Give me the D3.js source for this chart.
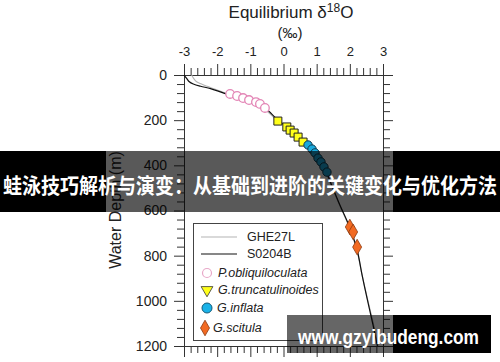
<!DOCTYPE html>
<html><head><meta charset="utf-8">
<script src="https://cdn.jsdelivr.net/npm/d3@7/dist/d3.min.js"></script>
<style>body{margin:0;background:#fff}svg{display:block}</style>
</head><body>
<svg id="c" width="500" height="362"></svg>
<script>
// ---- data ----
const xTicks = [-3, -2, -1, 0, 1, 2, 3];
const yTicks = [0, 200, 400, 600, 800, 1000, 1200];
const depths = [0, 15, 30, 40, 50, 60, 80, 115, 146, 199, 239, 288, 345, 421, 487, 576, 669, 775, 886, 996, 1107, 1200];
const s0204b = [-3.0, -2.92, -2.84, -2.72, -2.50, -2.2, -1.80, -1.01, -0.56, -0.17, 0.20, 0.59, 0.95, 1.27, 1.45, 1.70, 1.98, 2.22, 2.37, 2.53, 2.70, 2.83];
const ghe27l = [-2.77, -2.71, -2.62, -2.47, -2.30, -2.12, -1.76, -1.06, -0.62, -0.21, 0.16, 0.55, 0.92, 1.24, 1.43, 1.69, 1.97, 2.21, 2.37, 2.54, 2.72, 2.85];
const pObliX = [-1.61, -1.40, -1.22, -1.04, -0.83, -0.71, -0.56];
const pObliD = [84, 93, 102, 111, 120, 128, 146];
const gTrunX = [-0.17, 0.10, 0.20, 0.32, 0.44, 0.59];
const gTrunD = [204, 230, 244, 257, 275, 297];
const gInflX = [0.74, 0.86, 0.95, 1.04, 1.13, 1.22, 1.31];
const gInflD = [310, 328, 345, 368, 385, 407, 430];
const gSciX = [2.0, 2.1, 2.22];
const gSciD = [673, 695, 762];
const legendLabels = ["GHE27L", "S0204B", "P.obliquiloculata", "G.truncatulinoides", "G.inflata", "G.scitula"];
const bannerText = "蛙泳技巧解析与演变：从基础到进阶的关键变化与优化方法";
const watermarkText = "www.gzyibudeng.com";

// ---- chart ----
const svg = d3.select("#c");
const FONT = "'Liberation Sans', Arial, Helvetica, sans-serif";
const x = d3.scaleLinear().domain([-3, 3]).range([184, 383]);
const y = d3.scaleLinear().domain([0, 1200]).range([75, 346]);
const minorX = d3.range(-3, 3.001, 0.2).map(v => +v.toFixed(2)).filter(v => Math.abs(v - Math.round(v)) > 1e-6);
const minorY = d3.range(0, 1200.1, 40).filter(v => v % 200 !== 0);
const axColor = "#333";

function styleAxis(g) {
  g.selectAll("path.domain").attr("stroke", axColor).attr("stroke-width", 1);
  g.selectAll(".tick line").attr("stroke", axColor);
  g.selectAll("text").attr("font-family", FONT).attr("fill", "#222");
}
// top
svg.append("g").attr("transform", "translate(0,75)")
  .call(d3.axisTop(x).tickValues(xTicks).tickSize(11).tickSizeOuter(0).tickPadding(8).tickFormat(d => String(d)))
  .call(styleAxis).call(g => g.selectAll("text").attr("font-size", 13));
svg.append("g").attr("transform", "translate(0,75)")
  .call(d3.axisTop(x).tickValues(minorX).tickSize(7).tickSizeOuter(0).tickFormat(""))
  .call(styleAxis);
// bottom
svg.append("g").attr("transform", "translate(0,346)")
  .call(d3.axisBottom(x).tickValues(xTicks).tickSize(11).tickSizeOuter(0).tickFormat(""))
  .call(styleAxis);
svg.append("g").attr("transform", "translate(0,346)")
  .call(d3.axisBottom(x).tickValues(minorX).tickSize(7).tickSizeOuter(0).tickFormat(""))
  .call(styleAxis);
// left
svg.append("g").attr("transform", "translate(184,0)")
  .call(d3.axisLeft(y).tickValues(yTicks).tickSize(10).tickSizeOuter(0).tickPadding(7).tickFormat(d => String(d)))
  .call(styleAxis).call(g => g.selectAll("text").attr("font-size", 14));
svg.append("g").attr("transform", "translate(184,0)")
  .call(d3.axisLeft(y).tickValues(minorY).tickSize(7).tickSizeOuter(0).tickFormat(""))
  .call(styleAxis);
// right
svg.append("g").attr("transform", "translate(383,0)")
  .call(d3.axisRight(y).tickValues(yTicks).tickSize(10).tickSizeOuter(0).tickFormat(""))
  .call(styleAxis);
svg.append("g").attr("transform", "translate(383,0)")
  .call(d3.axisRight(y).tickValues(minorY).tickSize(7).tickSizeOuter(0).tickFormat(""))
  .call(styleAxis);

// titles
const t = svg.append("text").attr("x", 291).attr("y", 18).attr("text-anchor", "middle")
  .attr("font-family", FONT).attr("font-size", 17).attr("fill", "#222");
t.append("tspan").text("Equilibrium δ");
t.append("tspan").attr("font-size", 12).attr("dy", -6).text("18");
t.append("tspan").attr("dy", 6).text("O");
svg.append("text").attr("x", 290).attr("y", 38).attr("text-anchor", "middle")
  .attr("font-family", FONT).attr("font-size", 15).attr("fill", "#222").text("(‰)");
svg.append("text").attr("transform", "translate(121,210) rotate(-90)").attr("text-anchor", "middle")
  .attr("font-family", FONT).attr("font-size", 16).attr("fill", "#222").text("Water Depth (m)");

// lines
const line = d3.line().x(d => x(d[0])).y(d => y(d[1])).curve(d3.curveCatmullRom);
svg.append("path").attr("d", line(ghe27l.map((v, i) => [v, depths[i]])))
  .attr("fill", "none").attr("stroke", "#b4b4b4").attr("stroke-width", 1.1);
svg.append("path").attr("d", line(s0204b.map((v, i) => [v, depths[i]])))
  .attr("fill", "none").attr("stroke", "#111").attr("stroke-width", 1.2);

// markers
const sq = d3.symbol().type(d3.symbolSquare).size(64);
const dia = d3.symbol().type(d3.symbolDiamond).size(70);
const tri = d3.symbol().type(d3.symbolTriangle).size(60);
svg.append("g").selectAll("circle").data(pObliX.map((v, i) => [v, pObliD[i]])).join("circle")
  .attr("cx", d => x(d[0])).attr("cy", d => y(d[1])).attr("r", 4.3)
  .attr("fill", "#fff").attr("stroke", "#e386b6").attr("stroke-width", 1.3);
svg.append("g").selectAll("path").data(gTrunX.map((v, i) => [v, gTrunD[i]])).join("path")
  .attr("d", sq).attr("transform", d => `translate(${x(d[0])},${y(d[1])})`)
  .attr("fill", "#ffff1a").attr("stroke", "#222").attr("stroke-width", 1);
svg.append("g").selectAll("circle").data(gInflX.map((v, i) => [v, gInflD[i]])).join("circle")
  .attr("cx", d => x(d[0])).attr("cy", d => y(d[1])).attr("r", 4.2)
  .attr("fill", "#1aa9dc").attr("stroke", "#12394d").attr("stroke-width", 1);
svg.append("g").selectAll("path").data(gSciX.map((v, i) => [v, gSciD[i]])).join("path")
  .attr("d", dia).attr("transform", d => `translate(${x(d[0])},${y(d[1])})`)
  .attr("fill", "#f26a22").attr("stroke", "#8a3a10").attr("stroke-width", 0.8);

// legend
const lg = svg.append("g");
lg.append("rect").attr("x", 193.5).attr("y", 223.5).attr("width", 129).attr("height", 117)
  .attr("fill", "#fff").attr("stroke", "#444").attr("stroke-width", 1);
const ly = [237, 254, 273, 290, 308, 328];
lg.append("line").attr("x1", 201).attr("x2", 237).attr("y1", ly[0]).attr("y2", ly[0]).attr("stroke", "#b4b4b4").attr("stroke-width", 1.1);
lg.append("line").attr("x1", 201).attr("x2", 237).attr("y1", ly[1]).attr("y2", ly[1]).attr("stroke", "#111").attr("stroke-width", 1.2);
lg.append("circle").attr("cx", 207).attr("cy", ly[2]).attr("r", 4.5).attr("fill", "#fff").attr("stroke", "#e8a8c8").attr("stroke-width", 1.2);
lg.append("path").attr("d", tri).attr("transform", `translate(207,${ly[3]}) rotate(180)`).attr("fill", "#ffff1a").attr("stroke", "#333").attr("stroke-width", 0.8);
lg.append("circle").attr("cx", 207).attr("cy", ly[4]).attr("r", 5).attr("fill", "#1ab2e8").attr("stroke", "#145a78").attr("stroke-width", 1);
lg.append("path").attr("d", dia).attr("transform", `translate(205,${ly[5]})`).attr("fill", "#f26a22").attr("stroke", "#8a3a10").attr("stroke-width", 0.8);
const lx = [247, 247, 218, 218, 217, 213];
legendLabels.forEach((s, i) => {
  lg.append("text").attr("x", lx[i]).attr("y", ly[i]).attr("dy", "0.35em")
    .attr("font-family", FONT).attr("font-size", 12.5).attr("fill", "#222")
    .attr("font-style", i >= 2 ? "italic" : "normal").text(s);
});

// banner overlay
svg.append("rect").attr("x", 0).attr("y", 151).attr("width", 106).attr("height", 61).attr("fill", "#000");
svg.append("rect").attr("x", 393).attr("y", 151).attr("width", 107).attr("height", 61).attr("fill", "#000");
svg.append("rect").attr("x", 106).attr("y", 151).attr("width", 287).attr("height", 61).attr("fill", "rgba(0,0,0,0.65)");
svg.append("text").attr("x", 250).attr("y", 184).attr("dominant-baseline", "central").attr("text-anchor", "middle")
  .attr("font-family", "'Noto Sans CJK SC', sans-serif").attr("font-weight", "bold").attr("font-size", 21)
  .attr("fill", "#fff").attr("textLength", 494).attr("lengthAdjust", "spacingAndGlyphs").text(bannerText);

// watermark
svg.append("rect").attr("x", 287).attr("y", 315).attr("width", 106).attr("height", 38).attr("fill", "rgba(0,0,0,0.6)");
svg.append("rect").attr("x", 393).attr("y", 315).attr("width", 98).attr("height", 38).attr("fill", "#000");
svg.append("text").attr("x", 388.5).attr("y", 337).attr("dominant-baseline", "central").attr("text-anchor", "middle")
  .attr("font-family", FONT).attr("font-weight", "bold").attr("font-size", 20)
  .attr("fill", "#fff").attr("textLength", 181).attr("lengthAdjust", "spacingAndGlyphs").text(watermarkText);
</script>
</body></html>
